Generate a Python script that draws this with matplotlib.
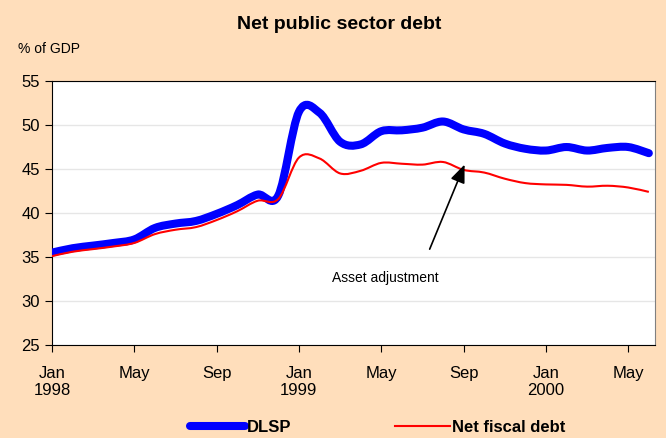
import numpy as np
import matplotlib
matplotlib.use("Agg")
import matplotlib.pyplot as plt
from matplotlib.path import Path
from matplotlib.patches import PathPatch
from matplotlib.lines import Line2D

plt.rcParams['font.family'] = ['Liberation Sans', 'DejaVu Sans']

# monthly, Jan 1998 .. Jun 2000
months = ["Jan\n1998", "Feb", "Mar", "Apr", "May", "Jun", "Jul", "Aug", "Sep", "Oct", "Nov", "Dec",
          "Jan\n1999", "Feb", "Mar", "Apr", "May", "Jun", "Jul", "Aug", "Sep", "Oct", "Nov", "Dec",
          "Jan\n2000", "Feb", "Mar", "Apr", "May", "Jun"]

dlsp = [35.5, 36.0, 36.3, 36.6, 37.0, 38.3, 38.8, 39.1, 39.9, 40.9, 42.1, 42.0,
        51.5, 51.4, 48.1, 47.8, 49.3, 49.4, 49.7, 50.4, 49.5, 49.0, 47.9, 47.3,
        47.1, 47.5, 47.1, 47.4, 47.5, 46.8]

net_fiscal = [35.1, 35.6, 35.9, 36.2, 36.6, 37.6, 38.1, 38.4, 39.2, 40.2, 41.4, 41.6,
              46.3, 46.2, 44.5, 44.8, 45.7, 45.6, 45.5, 45.8, 44.9, 44.6, 43.9, 43.4,
              43.25, 43.2, 43.0, 43.1, 42.9, 42.4]

tick_every = 4
bg = '#FFDEBB'


def smooth_path(xs, ys):
    # Excel-style smoothed line: Catmull-Rom segments as cubic Beziers
    p = np.column_stack([xs, ys]).astype(float)
    n = len(p)
    verts = [p[0]]
    codes = [Path.MOVETO]
    for i in range(n - 1):
        p0 = p[max(i - 1, 0)]
        p1 = p[i]
        p2 = p[i + 1]
        p3 = p[min(i + 2, n - 1)]
        c1 = p1 + (p2 - p0) / 6
        c2 = p2 - (p3 - p1) / 6
        verts += [c1, c2, p2]
        codes += [Path.CURVE4] * 3
    return Path(verts, codes)


x = np.arange(len(months))

fig = plt.figure(figsize=(6.66, 4.38), dpi=100, facecolor=bg)
ax = fig.add_axes([0.078, 0.2123, 0.9055, 0.6027])
ax.set_facecolor('white')

ax.add_patch(PathPatch(smooth_path(x, dlsp), fill=False, edgecolor='#0000FF', lw=5.8,
                       capstyle='round', joinstyle='round', zorder=3))
ax.add_patch(PathPatch(smooth_path(x, net_fiscal), fill=False, edgecolor='#FF0000', lw=1.5,
                       joinstyle='round', zorder=3))

ax.set_ylim(25, 55)
ax.set_yticks(np.arange(25, 56, 5))
ax.set_xlim(0, len(months) - 0.7)
ax.set_xticks(x[::tick_every])
ax.set_xticklabels(months[::tick_every])
ax.tick_params(axis='both', direction='out', length=5, width=0.8, labelsize=12, color='black')
ax.tick_params(axis='x', pad=10)
ax.grid(axis='y', color='#E6E6E6', lw=1)
ax.set_axisbelow(True)
for s in ax.spines.values():
    s.set_linewidth(0.8)
    s.set_color('black')
ax.spines['right'].set_color('#808080')

ax.annotate('', xy=(20.1, 45.8), xytext=(18.3, 35.6),
            arrowprops=dict(arrowstyle='-|>,head_length=1.1,head_width=0.45', color='black', lw=1.2))
ax.text(16.2, 32.6, 'Asset adjustment', ha='center', va='center', fontsize=10)

fig.text(0.51, 0.945, 'Net public sector debt', ha='center', va='center', fontsize=14, fontweight='bold')
fig.text(0.027, 0.887, '% of GDP', ha='left', va='center', fontsize=10)

handles = [Line2D([], [], color='#0000FF', lw=5.8, solid_capstyle='round'),
           Line2D([], [], color='#FF0000', lw=1.5)]
fig.legend(handles, ['DLSP', 'Net fiscal debt'], loc='center', bbox_to_anchor=(0.567, 0.025),
           ncol=2, frameon=False, prop={'weight': 'bold', 'size': 12},
           handlelength=3.3, handletextpad=0.15, columnspacing=6.2)

fig.savefig('out.png', dpi=100, facecolor=bg)
